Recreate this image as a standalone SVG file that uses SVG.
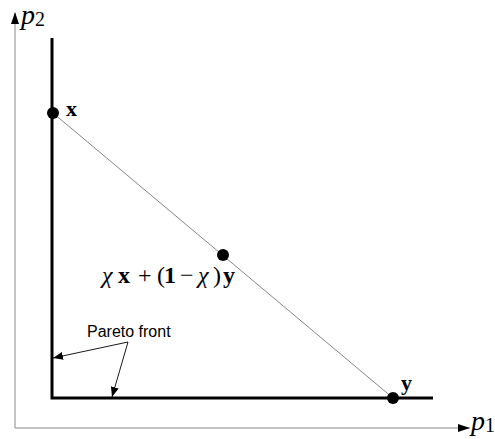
<svg xmlns="http://www.w3.org/2000/svg" width="495" height="439" viewBox="0 0 495 439">
<style>
.axis{stroke:#888;stroke-width:1;fill:none}
.front{stroke:#000;stroke-width:3;fill:none}
.seg{stroke:#666;stroke-width:0.8;fill:none}
.lbl{stroke:#000;stroke-width:0.9;fill:none}
.math{font-family:"Liberation Serif",serif;fill:#000}
.b{font-weight:bold}
.it{font-style:italic}
.txt{font-family:"Liberation Sans",Arial,sans-serif;font-size:16px;fill:#000}
</style>
<defs>
<marker id="ah" markerWidth="10" markerHeight="8" refX="10" refY="4" orient="auto" markerUnits="userSpaceOnUse">
<path d="M0,0 L10,4 L0,8 z" fill="#000"/>
</marker>
<marker id="ax" markerWidth="12" markerHeight="8" refX="12" refY="4" orient="auto" markerUnits="userSpaceOnUse">
<path d="M0,0 L12,4 L0,8 z" fill="#000"/>
</marker>
</defs>
<g id="axes">
<polyline class="axis" points="15,13 15,428 470,428"/>
<line x1="15" y1="30" x2="15" y2="12" stroke="none" marker-end="url(#ax)"/>
<line x1="450" y1="428" x2="470" y2="428" stroke="none" marker-end="url(#ax)"/>
<text class="math" x="21" y="24"><tspan class="it" font-size="28">p</tspan><tspan font-size="20" dy="2">2</tspan></text>
<text class="math" x="471" y="430"><tspan class="it" font-size="28">p</tspan><tspan font-size="20" dy="2">1</tspan></text>
</g>
<g id="pareto-front">
<polyline class="front" points="52,38 52,398 433,398"/>
</g>
<g id="connectors">
<line class="seg" x1="53" y1="113" x2="393" y2="398"/>
<line class="lbl" x1="128" y1="342" x2="53" y2="358" marker-end="url(#ah)"/>
<line class="lbl" x1="128" y1="342" x2="112" y2="397" marker-end="url(#ah)"/>
</g>
<g id="point-x">
<circle cx="53" cy="113" r="6" fill="#000"/>
<text class="math b" x="66" y="116" font-size="22">x</text>
</g>
<g id="point-mid">
<circle cx="223" cy="255" r="6" fill="#000"/>
<text class="math" y="283" font-size="24"><tspan class="it" x="102">χ</tspan><tspan class="b" x="118">x</tspan><tspan x="138">+</tspan><tspan x="157">(</tspan><tspan class="b" x="164">1</tspan><tspan x="180">−</tspan><tspan class="it" x="198">χ</tspan><tspan x="213">)</tspan><tspan class="b" x="223">y</tspan></text>
</g>
<g id="point-y">
<circle cx="393" cy="398" r="6" fill="#000"/>
<text class="math b" x="401" y="390" font-size="22">y</text>
</g>
<g id="label-pareto">
<text class="txt" x="87" y="337">Pareto front</text>
</g>
</svg>
